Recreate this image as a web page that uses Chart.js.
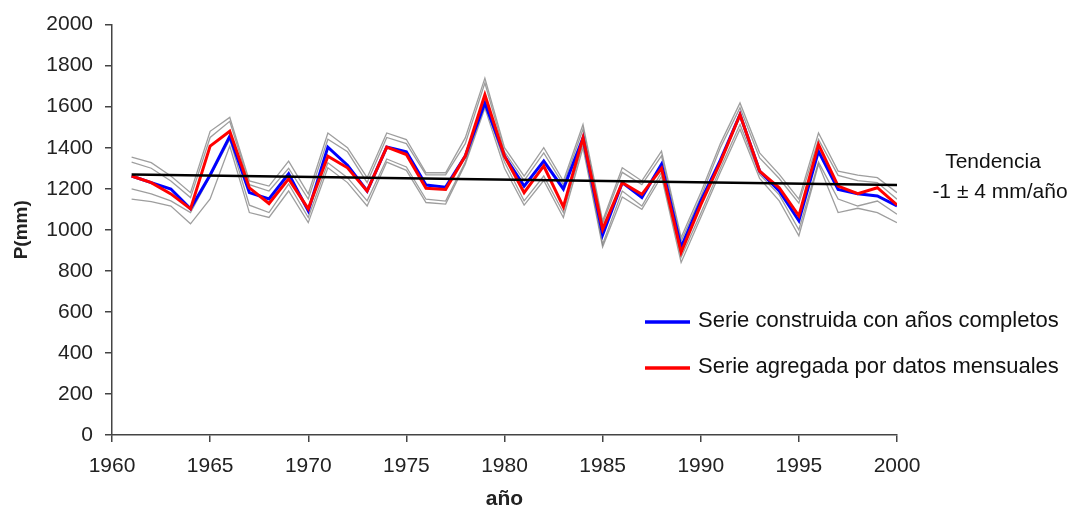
<!DOCTYPE html>
<html>
<head>
<meta charset="utf-8">
<script src="https://cdn.jsdelivr.net/npm/chart.js@4.4.1/dist/chart.umd.min.js"></script>
<style>
    html, body { margin: 0; padding: 0; background: #fff; }
    #wrap { width: 1068px; height: 512px; position: relative; }
</style>
</head>
<body>
<div id="wrap"><canvas id="chart"></canvas></div>
<script>
// Años 1961-2000
const years = [1961,1962,1963,1964,1965,1966,1967,1968,1969,1970,
               1971,1972,1973,1974,1975,1976,1977,1978,1979,1980,
               1981,1982,1983,1984,1985,1986,1987,1988,1989,1990,
               1991,1992,1993,1994,1995,1996,1997,1998,1999,2000];

// Serie construida con años completos (azul)
const serieCompletos = [1262,1230,1199,1102,1267,1456,1181,1150,1273,1092,
                        1403,1315,1189,1403,1380,1218,1208,1359,1618,1359,
                        1213,1335,1199,1448,976,1230,1157,1320,914,1140,
                        1340,1561,1286,1189,1044,1383,1197,1176,1165,1116];

// Serie agregada por datos mensuales (rojo)
const serieMensual = [1262,1230,1175,1102,1408,1480,1204,1128,1248,1102,
                      1359,1302,1189,1403,1367,1202,1197,1359,1658,1359,
                      1181,1311,1112,1448,1003,1230,1173,1299,890,1121,
                      1330,1561,1286,1205,1068,1416,1213,1176,1205,1121];

// Series individuales (gris)
const grisA = [1354,1327,1262,1181,1480,1548,1238,1213,1335,1175,
               1472,1400,1254,1472,1440,1278,1278,1448,1739,1400,
               1262,1400,1238,1513,1044,1302,1238,1383,963,1180,
               1420,1618,1375,1270,1149,1472,1286,1266,1254,1181];
const grisB = [1330,1300,1238,1157,1450,1529,1220,1189,1300,1150,
               1441,1380,1230,1450,1420,1268,1268,1420,1715,1380,
               1240,1375,1220,1490,1030,1280,1220,1360,945,1160,
               1400,1595,1350,1250,1130,1440,1265,1240,1230,1149];
const grisC = [1199,1175,1141,1084,1260,1440,1120,1084,1223,1060,
               1327,1254,1141,1345,1306,1149,1140,1330,1610,1330,
               1141,1262,1084,1420,930,1189,1116,1280,866,1080,
               1300,1513,1270,1170,1000,1330,1150,1116,1140,1076];
const grisD = [1150,1137,1116,1029,1150,1408,1084,1060,1189,1035,
               1302,1230,1116,1330,1290,1133,1125,1320,1594,1300,
               1120,1240,1060,1400,917,1160,1100,1260,841,1060,
               1280,1490,1250,1141,971,1319,1084,1105,1084,1035];

// Tendencia lineal
const trendYears = [1961, 2000];
const trendValues = [1270, 1218];

const FONT = "'Liberation Sans', Arial, sans-serif";

const toXY = (xs, ys) => xs.map((x, i) => ({ x: x, y: ys[i] }));

const grayDs = (data) => ({
    data: toXY(years, data),
    borderColor: 'rgba(125,125,125,0.75)',
    borderWidth: 1.3,
    pointRadius: 0,
    tension: 0,
    order: 3
});

// Leyenda y texto de tendencia
const textPlugin = {
    id: 'textos',
    afterDraw(chart) {
        const c = chart.ctx;
        c.save();
        c.fillStyle = '#111';
        c.textBaseline = 'middle';
        c.lineWidth = 3.5;

        c.font = '22px ' + FONT;
        c.strokeStyle = '#0000ff';
        c.beginPath(); c.moveTo(645, 322); c.lineTo(690, 322); c.stroke();
        c.textAlign = 'left';
        c.fillText('Serie construida con años completos', 698, 321);

        c.strokeStyle = '#ff0000';
        c.beginPath(); c.moveTo(645, 368); c.lineTo(690, 368); c.stroke();
        c.fillText('Serie agregada por datos mensuales', 698, 367);

        c.font = '21px ' + FONT;
        c.textAlign = 'center';
        c.fillText('Tendencia', 993, 162);
        c.fillText('-1 ± 4 mm/año', 1000, 192);
        c.restore();
    }
};

new Chart(document.getElementById('chart'), {
    type: 'line',
    data: {
        datasets: [
            grayDs(grisA), grayDs(grisB), grayDs(grisC), grayDs(grisD),
            {
                data: toXY(years, serieCompletos),
                borderColor: '#0000ff',
                borderWidth: 3,
                pointRadius: 0,
                tension: 0,
                order: 2
            },
            {
                data: toXY(years, serieMensual),
                borderColor: '#ff0000',
                borderWidth: 3,
                pointRadius: 0,
                tension: 0,
                order: 1
            },
            {
                data: toXY(trendYears, trendValues),
                borderColor: '#000000',
                borderWidth: 2.5,
                pointRadius: 0,
                order: 0
            }
        ]
    },
    options: {
        responsive: true,
        maintainAspectRatio: false,
        animation: false,
        layout: { padding: { top: 23, right: 171, left: 0, bottom: 0 } },
        plugins: {
            legend: { display: false },
            tooltip: { enabled: false }
        },
        scales: {
            x: {
                type: 'linear',
                min: 1960,
                max: 2000,
                ticks: {
                    stepSize: 5,
                    color: '#222',
                    font: { family: FONT, size: 21 },
                    padding: 12,
                    maxRotation: 0,
                    callback: (v) => String(v)
                },
                grid: { drawOnChartArea: false, drawTicks: true, tickLength: 7, color: '#444', lineWidth: 1.5 },
                border: { color: '#444', width: 1.5 },
                title: {
                    display: true,
                    text: 'año',
                    color: '#222',
                    font: { family: FONT, size: 21, weight: 'bold' },
                    padding: { top: 8, bottom: 0 }
                },
                afterFit: (scale) => { scale.height = 77; }
            },
            y: {
                min: 0,
                max: 2000,
                ticks: {
                    stepSize: 200,
                    color: '#222',
                    font: { family: FONT, size: 21 },
                    padding: 12,
                    callback: (v) => String(v)
                },
                grid: { drawOnChartArea: false, drawTicks: true, tickLength: 7, color: '#444', lineWidth: 1.5 },
                border: { color: '#444', width: 1.5 },
                title: {
                    display: true,
                    text: 'P(mm)',
                    color: '#222',
                    font: { family: FONT, size: 19, weight: 'bold' },
                    padding: { top: 10, bottom: 0 }
                },
                afterFit: (scale) => { scale.width = 112; }
            }
        }
    },
    plugins: [textPlugin]
});
</script>
</body>
</html>
